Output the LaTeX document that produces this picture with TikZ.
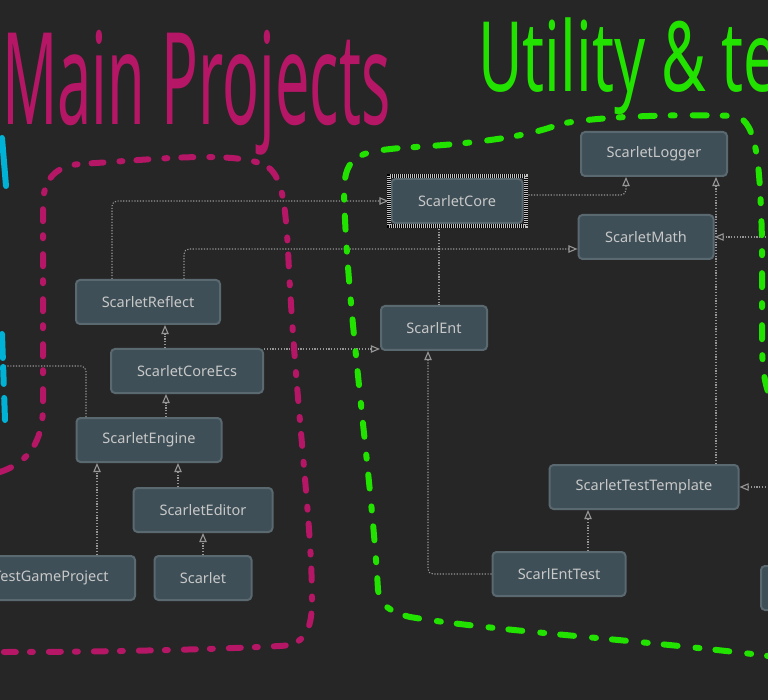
\documentclass[tikz,border=0pt]{standalone}
\usepackage{xcolor}
\usepackage{graphicx}
\usepackage{fontspec}
\setmainfont{Noto Sans}
\usepackage{tikz}
\usetikzlibrary{calc}
\usetikzlibrary{arrows}
\definecolor{bgdark}{RGB}{38,38,38}
\definecolor{projfill}{RGB}{62,79,87}
\definecolor{projline}{RGB}{90,104,112}
\definecolor{projtext}{RGB}{200,200,200}
\definecolor{depline}{RGB}{150,150,150}
\definecolor{penpink}{RGB}{181,22,101}
\definecolor{pengreen}{RGB}{34,226,0}
\definecolor{pencyan}{RGB}{0,178,214}

\begin{document}
\begin{tikzpicture} [x=1pt, y=-1pt,
  proj/.style={draw=projline, fill=projfill, line width=2pt, rounded corners=4pt, minimum height=44pt, inner sep=0pt, outer sep=1pt, text=projtext, font=\fontsize{14.5}{16}\selectfont},
  dep/.style={depline, line width=1.1pt, dash pattern=on 1.2pt off 1.6pt, rounded corners=5pt, >=open triangle 45},
  pen/.style={line width=6pt, line cap=round, line join=round}]
\useasboundingbox (0,0) rectangle (768,700);
\clip (0,0) rectangle (768,700);
\fill[bgdark] (0,0) rectangle (768,700);

% project boxes
\foreach \id/\x/\y/\w/\txt in {logger/654/154/146/ScarletLogger, math/646/237/135/ScarletMath, reflect/148/302/144/ScarletReflect, ent/434/328/106/ScarlEnt, ecs/187/371/152/ScarletCoreEcs, engine/149/440/145/ScarletEngine, editor/203/510/139/ScarletEditor, scarlet/203/578/97/Scarlet, template/644/487/189/ScarletTestTemplate, enttest/559/574/133/ScarlEntTest} {
 \node[proj, minimum width=\w pt] (\id) at (\x,\y) {\txt};
}
\node[proj, minimum width=131pt, outer sep=3pt] (core) at (457,201) {ScarletCore};
\node[proj, minimum width=168pt, anchor=east] (testgame) at (136,578) {TestGameProject};
\node[proj, minimum width=120pt, anchor=west] (cutnode) at (760,588) {};
\coordinate (offleft) at (-10,366);
\coordinate (offmath) at (780,237);
\coordinate (offtempl) at (780,487);

% dependencies
\draw[dep,->] ([xshift=-36pt]reflect.north) |- (core.west);
\draw[dep,->] ([xshift=36pt]reflect.north) |- ([yshift=-12pt]math.west);
\draw[dep,->] ([yshift=6pt]core.east) -| ([xshift=-28pt]logger.south);
\draw[dep] ([xshift=-18pt]core.south) -- ([xshift=-18pt]core.south |- ent.north);
\draw[dep,->] ([yshift=-1pt]ecs.north east) -- ([yshift=-1pt]ecs.north east -| ent.west);
\draw[dep,->] ([xshift=-22pt]ecs.north) -- ([xshift=-22pt]ecs.north |- reflect.south);
\draw[dep,->] ([xshift=-63pt]engine.north) |- (offleft);
\draw[dep,->] ([xshift=17pt]engine.north) -- ([xshift=17pt]engine.north |- ecs.south);
\draw[dep,->] ([xshift=-39pt]testgame.north east) -- ([xshift=-39pt]testgame.north east |- engine.south);
\draw[dep,->] ([xshift=-25pt]editor.north) -- ([xshift=-25pt]editor.north |- engine.south);
\draw[dep,->] (scarlet.north) -- (editor.south);
\draw[dep,->] (enttest.west) -| ([xshift=-6pt]ent.south);
\draw[dep,->] ([xshift=29pt]enttest.north) -- ([xshift=29pt]enttest.north |- template.south);
\draw[dep,->] ([xshift=72pt]template.north) -- ([xshift=72pt]template.north |- logger.south);
\draw[dep,->] (offmath) -- (math.east);
\draw[dep,->] (offtempl) -- (template.east);

% selection frame
\draw[black, line width=4pt] (core.north west) rectangle (core.south east);
\draw[white!75!black, line width=4pt, dash pattern=on 1pt off 1pt] (core.north west) rectangle (core.south east);

% pen notes
\draw[pen, penpink, dash pattern=on 12pt off 16pt on 3pt off 14pt] (0,472) .. controls (30,462) and (42,440) .. (43,410) -- (43,205) .. controls (43,180) and (55,166) .. (80,164) .. controls (150,160) and (230,150) .. (265,165) .. controls (282,175) and (285,200) .. (288,250) .. controls (295,400) and (312,520) .. (312,600) .. controls (312,630) and (305,645) .. (280,646) .. controls (200,650) and (100,652) .. (0,652);
\draw[pen, pengreen, dash pattern=on 14pt off 18pt on 4pt off 16pt] (800,430) .. controls (770,410) and (762,390) .. (762,340) -- (762,240) .. controls (760,170) and (758,120) .. (735,116) .. controls (680,114) and (600,116) .. (560,124) .. controls (520,140) and (450,145) .. (400,148) .. controls (360,152) and (345,155) .. (344,190) .. controls (346,300) and (372,480) .. (378,590) .. controls (380,605) and (390,612) .. (410,617) .. controls (500,632) and (650,640) .. (800,660);
\draw[pen, pencyan] (2,138) -- (6,186);
\draw[pen, pencyan, dash pattern=on 24pt off 9pt on 17pt off 14pt] (2,334) -- (5,420);
\node[penpink, anchor=north west, inner sep=0pt] (maintitle) at (2,30) {\resizebox*{388pt}{125pt}{Main Projects}};
\node[pengreen, anchor=north west, inner sep=0pt] (utiltitle) at (478,18) {\resizebox*{300pt}{97pt}{Utility \& te}};
\end{tikzpicture}
\end{document}
